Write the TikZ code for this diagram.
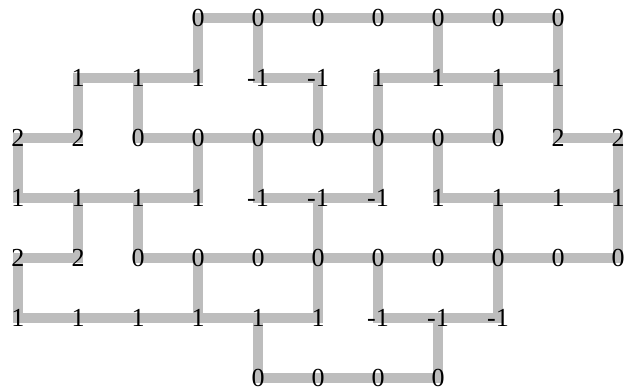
\documentclass[tikz,border=0pt]{standalone}
\usepackage{fontspec}
\setmainfont{Liberation Serif}
\usetikzlibrary{backgrounds}
\definecolor{wiregray}{HTML}{BDBDBD}
\tikzset{
  % cifra sulla griglia
  num/.style={inner sep=0pt, font=\fontsize{26}{26}\selectfont},
  % tratto grigio tra due cifre
  wire/.style={line width=10pt, wiregray, line cap=rect},
}
\begin{document}
\begin{tikzpicture}[x=1pt, y=1pt]
  \useasboundingbox (0,0) rectangle (625,391);
  % righe di cifre
  \foreach \v [count=\c from 3] in {0,0,0,0,0,0,0}
    \node[num] (r0c\c) at ({18+60*\c},373) {\v};
  \foreach \v [count=\c from 1] in {1,1,1,-1,-1,1,1,1,1}
    \node[num] (r1c\c) at ({18+60*\c},313) {\v};
  \foreach \v [count=\c from 0] in {2,2,0,0,0,0,0,0,0,2,2}
    \node[num] (r2c\c) at ({18+60*\c},253) {\v};
  \foreach \v [count=\c from 0] in {1,1,1,1,-1,-1,-1,1,1,1,1}
    \node[num] (r3c\c) at ({18+60*\c},193) {\v};
  \foreach \v [count=\c from 0] in {2,2,0,0,0,0,0,0,0,0,0}
    \node[num] (r4c\c) at ({18+60*\c},133) {\v};
  \foreach \v [count=\c from 0] in {1,1,1,1,1,1,-1,-1,-1}
    \node[num] (r5c\c) at ({18+60*\c},73) {\v};
  \foreach \v [count=\c from 4] in {0,0,0,0}
    \node[num] (r6c\c) at ({18+60*\c},13) {\v};
  \begin{scope}[on background layer]
    % tratti orizzontali
    \foreach \a/\b in {r0c3/r0c9, r1c1/r1c3, r1c4/r1c5, r1c6/r1c9,
        r2c0/r2c1, r2c2/r2c8, r2c9/r2c10, r3c0/r3c3, r3c4/r3c6, r3c7/r3c10,
        r4c0/r4c1, r4c2/r4c10, r5c0/r5c5, r5c6/r5c8, r6c4/r6c7}
      \draw[wire] (\a.center) -- (\b.center);
    % tratti verticali
    \foreach \a/\b in {r0c3/r1c3, r0c4/r1c4, r0c7/r1c7, r0c9/r1c9,
        r1c1/r2c1, r1c2/r2c2, r1c5/r2c5, r1c6/r2c6, r1c8/r2c8, r1c9/r2c9,
        r2c0/r3c0, r2c3/r3c3, r2c4/r3c4, r2c6/r3c6, r2c7/r3c7, r2c10/r3c10,
        r3c1/r4c1, r3c2/r4c2, r3c5/r4c5, r3c8/r4c8, r3c10/r4c10,
        r4c0/r5c0, r4c3/r5c3, r4c5/r5c5, r4c6/r5c6, r4c8/r5c8,
        r5c4/r6c4, r5c7/r6c7}
      \draw[wire] (\a.center) -- (\b.center);
  \end{scope}
\end{tikzpicture}
\end{document}
